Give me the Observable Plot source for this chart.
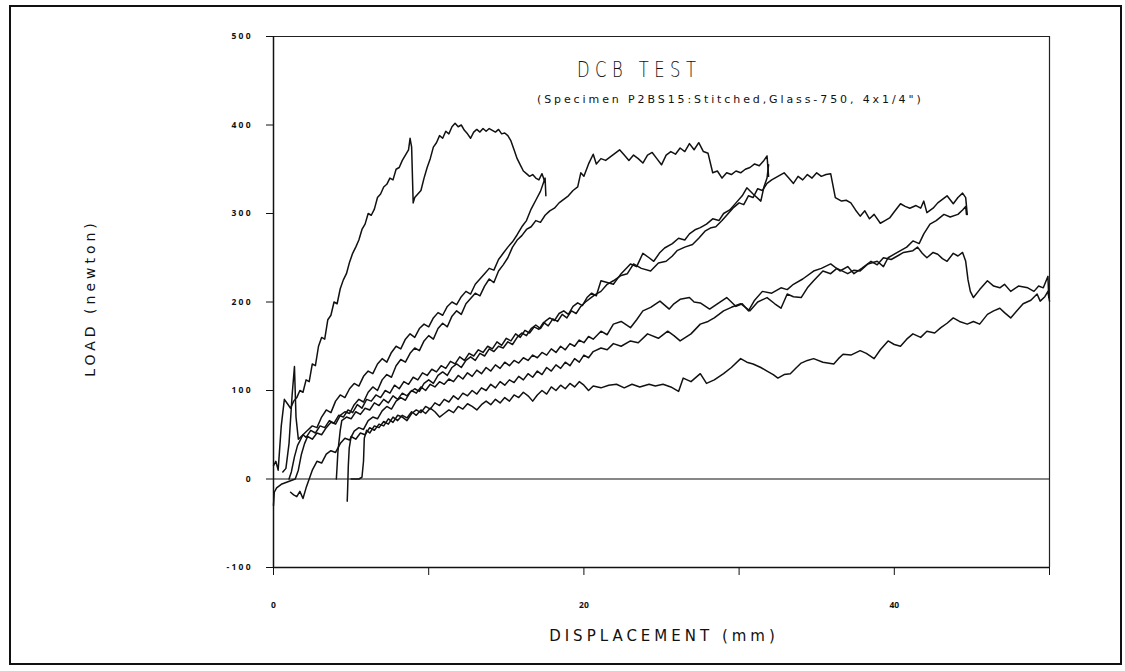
<!DOCTYPE html>
<html>
<head>
<meta charset="utf-8">
<script src="https://cdn.jsdelivr.net/npm/d3@7"></script>
<script src="https://cdn.jsdelivr.net/npm/@observablehq/plot@0.6"></script>
<style>
  html, body { margin: 0; padding: 0; background: #fff; }
  #wrap { position: relative; width: 1125px; height: 671px; overflow: hidden; font-family: "DejaVu Sans", sans-serif; color: #111; }
  #frame { position: absolute; left: 9px; top: 5px; width: 1113px; height: 660px; border: 2px solid #111; box-sizing: border-box; }
  #chart { position: absolute; left: 0; top: 0; }
  .t { position: absolute; white-space: nowrap; color: #111; }
  #title { left: 577px; top: 58px; font-size: 21px; letter-spacing: 7px; font-family: "DejaVu Sans", sans-serif; font-weight: 300; transform: scaleX(0.78); transform-origin: left; }
  #sub { left: 537px; top: 93px; font-size: 11px; letter-spacing: 2.9px; }
  #ylab { left: 90px; top: 298px; font-size: 14px; letter-spacing: 4px; transform: translate(-50%, -50%) rotate(-90deg); }
  #xlab { left: 664px; top: 636px; font-size: 15px; letter-spacing: 4px; transform: translate(-50%, -50%); }
</style>
</head>
<body>
<div id="wrap">
  <div id="chart"></div>
  <div id="frame"></div>
  <div class="t" id="title">DCB TEST</div>
  <div class="t" id="sub">(Specimen P2BS15:Stitched,Glass-750, 4x1/4")</div>
  <div class="t" id="ylab">LOAD (newton)</div>
  <div class="t" id="xlab">DISPLACEMENT (mm)</div>
</div>
<script>
// Displacement (mm), Load (N) pairs
const curveA = [[0.0,15],[0.15,20],[0.3,10],[0.5,60],[0.7,90],[0.9,85],[1.1,80],[1.3,88],[1.5,92],[1.7,100],[1.9,98],[2.1,112],[2.3,110],[2.5,130],[2.7,128],[2.9,150],[3.1,160],[3.3,158],[3.5,180],[3.7,185],[3.9,200],[4.1,198],[4.3,215],[4.5,225],[4.7,232],[4.9,245],[5.1,255],[5.3,262],[5.5,270],[5.7,282],[5.9,288],[6.1,300],[6.3,298],[6.5,305],[6.7,318],[6.9,322],[7.1,330],[7.3,333],[7.5,340],[7.7,338],[7.9,350],[8.1,352],[8.3,360],[8.5,366],[8.7,372],[8.8,385],[8.9,375],[9.0,312],[9.1,318],[9.3,322],[9.5,326],[9.7,340],[9.9,352],[10.1,362],[10.3,375],[10.5,380],[10.7,388],[10.9,385],[11.1,393],[11.3,390],[11.5,398],[11.7,402],[11.9,398],[12.1,400],[12.3,394],[12.5,390],[12.7,385],[12.9,392],[13.1,395],[13.3,392],[13.5,396],[13.7,393],[13.9,396],[14.1,394],[14.3,392],[14.5,395],[14.7,390],[14.9,391],[15.1,388],[15.3,382],[15.5,372],[15.7,362],[15.9,355],[16.1,348],[16.3,345],[16.5,342],[16.7,344],[16.9,340],[17.1,338],[17.3,345],[17.5,335]];

const curveB = [[0.6,8],[0.8,12],[1.0,40],[1.2,95],[1.35,127],[1.45,70],[1.6,45],[1.9,50],[2.2,55],[2.5,60],[2.8,58],[3.1,70],[3.4,78],[3.7,75],[4.0,88],[4.3,95],[4.6,92],[4.9,102],[5.2,108],[5.5,105],[5.8,116],[6.1,122],[6.4,119],[6.7,130],[7.0,136],[7.3,132],[7.6,143],[7.9,150],[8.2,147],[8.5,158],[8.8,164],[9.1,160],[9.4,170],[9.7,175],[10.0,172],[10.3,182],[10.6,188],[10.9,185],[11.2,195],[11.5,200],[11.8,197],[12.1,206],[12.4,212],[12.7,209],[13.0,220],[13.3,226],[13.6,232],[13.9,238],[14.2,236],[14.5,248],[14.8,255],[15.1,262],[15.4,268],[15.7,276],[16.0,285],[16.3,292],[16.6,305],[16.9,315],[17.2,325],[17.5,340],[17.55,320]];

const curveC = [[0,-30],[0.05,-15],[0.2,-10],[0.5,-6],[0.8,-4],[1.1,-2],[1.4,0],[1.6,10],[1.8,28],[2.0,40],[2.2,48],[2.5,45],[2.8,52],[3.1,50],[3.4,58],[3.7,64],[4.0,62],[4.3,72],[4.6,76],[4.9,74],[5.2,84],[5.5,90],[5.8,87],[6.1,98],[6.4,104],[6.7,100],[7.0,112],[7.3,118],[7.6,115],[7.9,128],[8.2,135],[8.5,132],[8.8,142],[9.1,148],[9.4,145],[9.7,156],[10.0,162],[10.3,158],[10.6,170],[10.9,176],[11.2,172],[11.5,184],[11.8,190],[12.1,186],[12.4,198],[12.7,204],[13.0,210],[13.3,207],[13.6,218],[13.9,226],[14.2,222],[14.5,235],[14.8,242],[15.1,250],[15.4,262],[15.7,270],[16.0,275],[16.3,282],[16.6,285],[16.9,292],[17.2,290],[17.5,298],[17.8,303],[18.1,306],[18.4,312],[18.7,316],[19.0,320],[19.3,326],[19.6,330],[19.8,346],[20.0,342],[20.3,356],[20.6,367],[20.8,356],[21.1,362],[21.4,360],[21.7,364],[22.0,368],[22.3,372],[22.6,366],[22.9,360],[23.2,366],[23.5,362],[23.8,357],[24.1,366],[24.4,369],[24.7,362],[25.0,355],[25.3,366],[25.6,370],[25.9,367],[26.2,374],[26.5,370],[26.8,379],[27.1,372],[27.4,380],[27.7,370],[28.0,368],[28.3,346],[28.6,348],[28.9,340],[29.2,346],[29.5,344],[29.8,348],[30.1,346],[30.4,350],[30.7,352],[31.0,356],[31.3,354],[31.6,360],[31.8,365],[31.9,342]];

const curveH = [[1.1,-15],[1.3,-18],[1.5,-20],[1.7,-14],[1.9,-22],[2.1,-10],[2.3,0],[2.5,10],[2.8,20],[3.1,18],[3.4,28],[3.7,32],[4.0,30],[4.3,40],[4.6,46],[4.9,44],[5.2,54],[5.5,58],[5.8,56],[6.1,66],[6.4,70],[6.7,68],[7.0,77],[7.3,82],[7.6,79],[7.9,88],[8.2,92],[8.5,89],[8.8,98],[9.1,102],[9.4,99],[9.7,108],[10.0,112],[10.3,108],[10.6,117],[10.9,121],[11.2,117],[11.5,126],[11.8,130],[12.1,126],[12.4,134],[12.7,138],[13.0,134],[13.3,142],[13.6,139],[13.9,147],[14.2,144],[14.5,150],[14.8,148],[15.1,155],[15.4,152],[15.7,160],[16.0,165],[16.3,162],[16.6,170],[16.9,174],[17.2,170],[17.5,178],[17.8,182],[18.1,179],[18.4,187],[18.7,190],[19.0,186],[19.3,195],[19.6,199],[19.9,196],[20.2,205],[20.5,210],[20.8,207],[21.1,224],[21.5,222],[21.9,220],[22.4,232],[23.0,243],[23.4,240],[23.8,255],[24.2,250],[24.5,246],[24.9,256],[25.2,261],[25.7,266],[26.1,272],[26.5,270],[26.8,277],[27.2,282],[27.5,284],[27.9,288],[28.3,294],[28.7,292],[29.0,300],[29.4,304],[29.8,312],[30.2,320],[30.5,329],[30.9,322],[31.4,314],[31.6,330],[31.8,340],[31.9,355]];

const curveD = [[1.0,0],[1.15,8],[1.35,25],[1.55,38],[1.7,43],[1.9,50],[2.1,47],[2.4,55],[2.7,52],[3.0,60],[3.3,58],[3.6,66],[3.9,63],[4.2,72],[4.5,70],[4.8,78],[5.1,75],[5.4,84],[5.7,80],[6.0,90],[6.3,88],[6.6,95],[6.9,92],[7.2,100],[7.5,97],[7.8,106],[8.1,102],[8.4,110],[8.7,107],[9.0,115],[9.3,112],[9.6,120],[9.9,117],[10.2,124],[10.5,121],[10.8,128],[11.1,125],[11.4,133],[11.7,130],[12.0,138],[12.3,134],[12.6,142],[12.9,139],[13.2,146],[13.5,143],[13.8,150],[14.1,147],[14.4,155],[14.7,151],[15.0,159],[15.3,156],[15.6,164],[15.9,160],[16.2,168],[16.5,165],[16.8,172],[17.1,169],[17.4,177],[17.7,173],[18.0,181],[18.3,178],[18.6,186],[18.9,182],[19.2,190],[19.5,187],[19.8,195],[20.1,200],[20.4,204],[20.7,208],[21.1,212],[21.5,220],[21.9,224],[22.4,230],[22.8,232],[23.2,243],[23.7,238],[24.3,235],[24.8,244],[25.3,246],[25.7,252],[26.0,258],[26.5,262],[27.0,265],[27.4,272],[27.8,280],[28.2,284],[28.5,285],[28.9,292],[29.3,300],[29.6,306],[30.0,312],[30.3,310],[30.6,320],[30.9,318],[31.2,328],[31.5,326],[31.8,334],[32.1,338],[32.5,342],[32.9,346],[33.2,340],[33.5,334],[33.8,342],[34.1,338],[34.4,344],[34.7,340],[35.0,346],[35.3,342],[35.6,344],[35.9,345],[36.2,318],[36.6,314],[36.9,315],[37.2,312],[37.5,304],[37.8,297],[38.1,303],[38.4,294],[38.7,299],[39.1,289],[39.4,292],[39.7,295],[40.0,302],[40.4,311],[40.7,308],[41.0,306],[41.4,309],[41.7,306],[41.9,314],[42.1,301],[42.5,306],[42.8,312],[43.1,316],[43.4,320],[43.8,311],[44.1,318],[44.4,323],[44.6,318],[44.7,299]];

const curveE = [[4.75,-25],[4.78,-10],[4.82,15],[4.88,35],[5.0,48],[5.3,45],[5.6,52],[5.9,50],[6.2,58],[6.5,55],[6.8,62],[7.1,60],[7.4,68],[7.7,64],[8.0,72],[8.3,70],[8.6,66],[8.9,74],[9.2,78],[9.5,75],[9.8,82],[10.1,79],[10.4,86],[10.7,83],[11.0,90],[11.3,87],[11.6,94],[11.9,90],[12.2,97],[12.5,94],[12.8,100],[13.1,96],[13.4,103],[13.7,100],[14.0,107],[14.3,103],[14.6,110],[14.9,106],[15.2,112],[15.5,109],[15.8,116],[16.1,112],[16.4,119],[16.7,115],[17.0,122],[17.3,118],[17.6,126],[17.9,122],[18.2,129],[18.5,125],[18.8,132],[19.1,128],[19.4,136],[19.7,132],[20.0,140],[20.3,137],[20.6,144],[21.1,148],[21.5,146],[21.9,153],[22.4,150],[23.0,156],[23.5,154],[24.1,164],[24.8,159],[25.4,167],[25.8,162],[26.2,156],[26.9,164],[27.5,175],[28.0,178],[28.4,182],[29.0,190],[29.5,194],[30.1,198],[30.7,190],[31.2,200],[31.8,205],[32.3,198],[32.7,193],[33.1,209],[33.5,206],[34.0,205],[34.4,216],[34.8,224],[35.4,235],[35.9,232],[36.3,238],[37.0,232],[37.4,236],[37.8,235],[38.3,243],[38.9,246],[39.3,240],[39.6,250],[40.0,254],[40.4,258],[40.8,262],[41.2,269],[41.6,266],[41.9,277],[42.3,288],[42.7,292],[43.2,299],[43.6,296],[44.1,299],[44.4,304],[44.6,308],[44.65,299]];

const curveF = [[4.05,0],[4.1,15],[4.15,31],[4.3,55],[4.4,66],[4.7,70],[5.0,68],[5.3,76],[5.6,73],[5.9,80],[6.2,78],[6.5,86],[6.8,83],[7.1,90],[7.4,86],[7.7,94],[8.0,90],[8.3,97],[8.6,94],[8.9,100],[9.2,97],[9.5,104],[9.8,100],[10.1,107],[10.4,104],[10.7,110],[11.0,107],[11.3,113],[11.6,110],[11.9,117],[12.2,113],[12.5,120],[12.8,116],[13.1,123],[13.4,119],[13.7,126],[14.0,122],[14.3,129],[14.6,125],[14.9,132],[15.2,128],[15.5,134],[15.8,131],[16.1,137],[16.4,134],[16.7,140],[17.0,137],[17.3,143],[17.6,140],[17.9,147],[18.2,143],[18.5,150],[18.8,146],[19.1,153],[19.4,150],[19.7,157],[20.0,154],[20.3,161],[20.6,158],[21.1,167],[21.5,163],[21.9,175],[22.4,178],[23.0,171],[23.4,180],[23.8,190],[24.3,194],[24.9,201],[25.5,192],[25.8,198],[26.2,203],[26.8,205],[27.1,200],[27.5,199],[28.1,192],[28.6,198],[29.2,205],[29.8,195],[30.2,198],[30.6,190],[31.0,202],[31.5,212],[32.1,210],[32.7,216],[33.1,214],[33.5,220],[34.1,226],[34.8,235],[35.3,238],[35.9,243],[36.5,235],[37.0,240],[37.4,232],[37.9,238],[38.5,246],[38.9,242],[39.3,250],[39.8,248],[40.2,252],[40.6,256],[41.2,258],[41.5,262],[41.8,255],[42.1,250],[42.5,256],[42.8,254],[43.1,249],[43.4,246],[43.8,255],[44.1,252],[44.4,256],[44.6,246],[44.75,225],[44.9,212],[45.1,205],[45.5,214],[46.0,224],[46.4,218],[46.8,216],[47.1,220],[47.5,212],[48.0,218],[48.6,216],[49.0,212],[49.3,218],[49.6,216],[49.9,229],[49.95,205]];

const curveG = [[5.0,0],[5.5,0],[5.7,2],[5.8,20],[5.85,46],[6.0,55],[6.2,52],[6.5,60],[6.8,58],[7.1,65],[7.4,62],[7.7,70],[8.0,66],[8.3,72],[8.6,69],[8.9,76],[9.2,72],[9.5,78],[9.8,74],[10.1,80],[10.4,76],[10.7,70],[11.0,74],[11.3,78],[11.6,75],[11.9,82],[12.2,79],[12.5,85],[12.8,82],[13.1,78],[13.4,84],[13.7,88],[14.0,84],[14.3,90],[14.6,86],[14.9,92],[15.2,88],[15.5,95],[15.8,92],[16.1,98],[16.4,94],[16.7,88],[17.0,95],[17.3,100],[17.6,96],[17.9,104],[18.2,100],[18.5,106],[18.8,102],[19.1,108],[19.4,104],[19.7,110],[20.0,106],[20.3,100],[20.6,105],[21.1,103],[21.6,106],[22.1,107],[22.6,103],[23.1,107],[23.6,104],[24.2,107],[24.6,105],[25.1,107],[25.6,104],[26.1,99],[26.4,114],[26.9,110],[27.5,119],[27.9,108],[28.4,112],[29.0,119],[29.5,126],[30.1,136],[30.5,132],[30.9,130],[31.4,126],[31.8,122],[32.2,118],[32.5,114],[32.9,118],[33.3,119],[33.7,126],[34.0,131],[34.4,134],[34.8,136],[35.4,132],[36.1,130],[36.4,136],[36.7,141],[37.2,140],[37.8,145],[38.2,142],[38.7,136],[39.1,146],[39.6,156],[40.0,152],[40.4,150],[40.8,158],[41.2,164],[41.7,160],[42.1,167],[42.6,165],[43.0,171],[43.4,176],[43.8,182],[44.2,178],[44.7,175],[45.1,178],[45.5,175],[46.0,186],[46.4,190],[46.8,193],[47.1,188],[47.5,182],[47.9,190],[48.3,198],[48.8,202],[49.2,209],[49.4,201],[49.7,206],[49.9,212],[50.0,201]];

const yTicks = [-100, 0, 100, 200, 300, 400, 500];
const xTicks = [0, 10, 20, 30, 40, 50];
const xTickLabels = ["0", "", "20", "", "40", ""];

const series = [curveA, curveB, curveC, curveH, curveD, curveE, curveF, curveG];
const rows = series.flatMap((s, i) => s.map(([x, y]) => ({x, y, id: i})));

const chart = Plot.plot({
  width: 1125,
  height: 671,
  marginLeft: 273,
  marginRight: 76,
  marginTop: 36,
  marginBottom: 104,
  x: {domain: [0, 50]},
  y: {domain: [-100, 500]},
  style: {background: "transparent", color: "#111"},
  marks: [
    Plot.ruleY([500], {stroke: "#222", strokeWidth: 1.2}),
    Plot.ruleX([50], {stroke: "#222", strokeWidth: 1.2}),
    Plot.ruleY([0], {stroke: "#111", strokeWidth: 1.2}),
    Plot.ruleY([-100], {stroke: "#111", strokeWidth: 1.3}),
    Plot.ruleX([0], {stroke: "#111", strokeWidth: 1.5}),
    Plot.axisY({ticks: yTicks, tickSize: 7, tickPadding: 16, label: null, fontSize: 8.5, fontWeight: "bold", tickFormat: d => String(d).split("").join(" ")}),
    Plot.axisX({ticks: xTicks, tickSize: 8, tickPadding: 26, label: null, fontSize: 8.5, fontWeight: "bold", tickFormat: (d, i) => xTickLabels[i]}),
    Plot.line(rows, {x: "x", y: "y", z: "id", stroke: "#111", strokeWidth: 1.5, curve: "linear"})
  ]
});
document.getElementById("chart").appendChild(chart);
</script>
</body>
</html>
